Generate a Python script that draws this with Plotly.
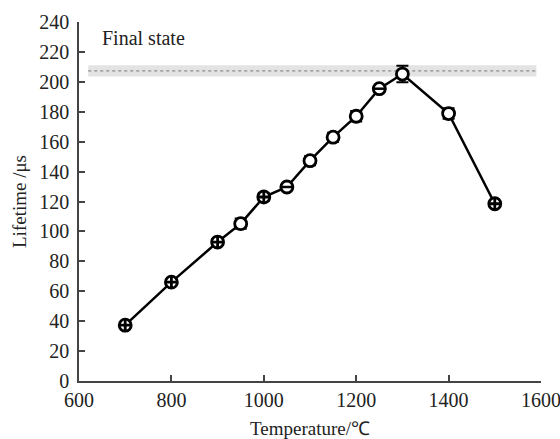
import plotly.graph_objects as go

temperature = [700, 800, 900, 950, 1000, 1050, 1100, 1150, 1200, 1250, 1300, 1400, 1500]
lifetime = [37.3, 66.1, 92.9, 105.2, 123.0, 129.7, 147.3, 163.0, 177.0, 195.4, 205.2, 178.8, 118.5]
lifetime_err = [1.5, 1.5, 2.0, 3.5, 2.5, 1.0, 3.0, 3.0, 3.5, 1.0, 5.5, 3.5, 1.5]
marker_kind = ["cross", "cross", "cross", "plain", "cross", "minus", "plain",
               "plain", "plain", "minus", "plain", "plain", "cross"]

final_state_mean = 207.3
final_state_err = 3.8
final_state_span = [620, 1590]

font_family = "Liberation Serif"
axis_color = "#444444"
text_color = "#222222"

fig = go.Figure()

fig.add_shape(type="rect", xref="x", yref="y",
              x0=final_state_span[0], x1=final_state_span[1],
              y0=final_state_mean - final_state_err, y1=final_state_mean + final_state_err,
              fillcolor="#e3e3e3", line=dict(width=0), layer="below")
fig.add_shape(type="line", xref="x", yref="y",
              x0=final_state_span[0], x1=final_state_span[1],
              y0=final_state_mean, y1=final_state_mean,
              line=dict(color="#777777", width=1, dash="dot"), layer="below")

fig.add_trace(go.Scatter(
    x=temperature, y=lifetime,
    mode="lines+markers",
    line=dict(color="black", width=2.5),
    marker=dict(size=12, color="white",
                symbol=["circle-cross" if k == "cross" else "circle" for k in marker_kind],
                line=dict(color="black", width=2.8)),
    error_y=dict(type="data", array=lifetime_err, color="black", thickness=2, width=6),
    showlegend=False,
))

minus_x = [t for t, k in zip(temperature, marker_kind) if k == "minus"]
minus_y = [v for v, k in zip(lifetime, marker_kind) if k == "minus"]
fig.add_trace(go.Scatter(
    x=minus_x, y=minus_y, mode="markers",
    marker=dict(symbol="line-ew", size=10, line=dict(color="black", width=2.5)),
    showlegend=False, hoverinfo="skip",
))

fig.add_annotation(text="Final state", xref="paper", yref="paper", x=0.045, y=0.955,
                   xanchor="left", yanchor="middle", showarrow=False,
                   font=dict(family=font_family, size=20, color=text_color))

fig.update_layout(
    width=560, height=439,
    margin=dict(l=79, r=19, t=22, b=58),
    plot_bgcolor="white", paper_bgcolor="white",
    font=dict(family=font_family, size=20, color=text_color),
)
fig.update_xaxes(range=[600, 1600], tickvals=[600, 800, 1000, 1200, 1400, 1600],
                 ticks="inside", ticklen=6, tickcolor=axis_color, tickwidth=1.5,
                 showline=True, linecolor=axis_color, linewidth=1.5,
                 showgrid=False, zeroline=False, automargin=False,
                 ticklabeloverflow="allow",
                 tickfont=dict(family=font_family, size=20, color=text_color),
                 title=dict(text="Temperature/℃", standoff=14,
                            font=dict(family=font_family, size=19, color=text_color)))
fig.update_yaxes(range=[0, 240], tickvals=list(range(0, 241, 20)),
                 ticks="inside", ticklen=6, tickcolor=axis_color, tickwidth=1.5,
                 showline=True, linecolor=axis_color, linewidth=1.5,
                 showgrid=False, zeroline=False, ticklabelstandoff=4, automargin=False,
                 ticklabeloverflow="allow",
                 tickfont=dict(family=font_family, size=20, color=text_color),
                 title=dict(text="Lifetime /μs", standoff=8,
                            font=dict(family=font_family, size=19, color=text_color)))

fig.write_html("out.html")
